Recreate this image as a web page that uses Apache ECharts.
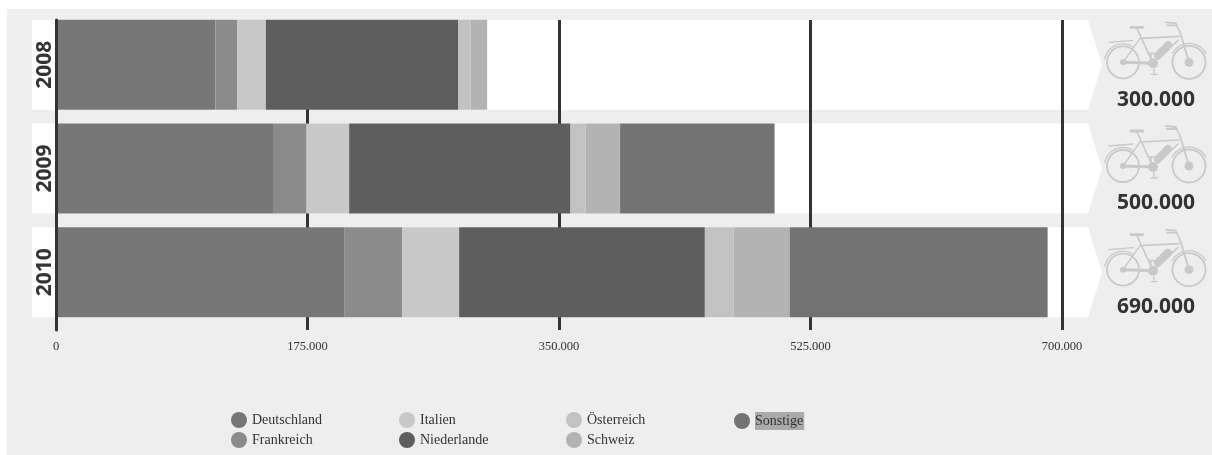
<!DOCTYPE html>
<html>
<head>
<meta charset="utf-8">
<title>E-Bike-Absatz in Europa</title>
<script src="https://cdn.jsdelivr.net/npm/echarts@6/dist/echarts.min.js"></script>
<style>
  html, body { margin: 0; padding: 0; background: #fff; }
  #chart { width: 1212px; height: 455px; }
</style>
</head>
<body>
<div id="chart"></div>
<script>
// Units sold per year, split by market
const years = ['2008', '2009', '2010'];
const totals = [300000, 500000, 690000];
const deutschland = [111000, 151000, 200500];
const frankreich = [15000, 23000, 40500];
const italien = [20000, 30000, 39500];
const niederlande = [134000, 154000, 171000];
const oesterreich = [8500, 10500, 20000];
const schweiz = [11500, 24000, 39000];
const sonstige = [0, 107500, 179500];
const axisTicks = [0, 175000, 350000, 525000, 700000];

const fmt = v => String(v).replace(/\B(?=(\d{3})+$)/g, '.');

const markets = [
  { name: 'Deutschland', values: deutschland, color: '#777777' },
  { name: 'Frankreich', values: frankreich, color: '#8b8b8b' },
  { name: 'Italien', values: italien, color: '#c8c8c8' },
  { name: 'Niederlande', values: niederlande, color: '#5e5e5e' },
  { name: 'Österreich', values: oesterreich, color: '#c2c2c2' },
  { name: 'Schweiz', values: schweiz, color: '#b3b3b3' },
  { name: 'Sonstige', values: sonstige, color: '#737373' }
];

const SERIF = '"Liberation Serif", serif';
const SANS = '"Open Sans", sans-serif';
const BIKE = '#c9c9c9';

// White arrow-shaped band behind each year's bar
function renderBand(params, api) {
  const cy = api.coord([0, api.value(0)])[1];
  const h = 45;
  const l = params.coordSys.x - 24;
  const r = params.coordSys.x + params.coordSys.width + 26;
  return {
    type: 'polygon',
    shape: { points: [[l, cy - h], [r, cy - h], [r + 14, cy], [r, cy + h], [l, cy + h]] },
    style: { fill: '#ffffff' }
  };
}

function bikeLine(x1, y1, x2, y2, w) {
  return {
    type: 'line',
    shape: { x1, y1, x2, y2 },
    style: { stroke: BIKE, lineWidth: w || 1.2, fill: null, lineCap: 'round' }
  };
}
function bikeRing(cx, cy, r, w) {
  return { type: 'circle', shape: { cx, cy, r }, style: { stroke: BIKE, lineWidth: w, fill: 'none' } };
}
function bikeDot(cx, cy, r) {
  return { type: 'circle', shape: { cx, cy, r }, style: { fill: BIKE } };
}
function bikeArc(cx, cy, r, from, to, w) {
  return {
    type: 'arc',
    shape: { cx, cy, r, startAngle: from * Math.PI, endAngle: to * Math.PI },
    style: { stroke: BIKE, lineWidth: w, fill: 'none' }
  };
}

// Bicycle pictogram and the yearly total, to the right of the band
function renderBike(params, api) {
  const idx = api.value(0);
  const cy = api.coord([0, idx])[1];
  const bikeParts = [
    bikeRing(23, 47, 16, 1.8), bikeRing(89, 47, 16.5, 1.8),
    bikeArc(23, 47, 18.5, 1.05, 1.7, 1.3), bikeArc(89, 47, 19, 1.15, 1.85, 1.3),
    bikeDot(89, 47, 4.5), bikeDot(53, 48, 5), bikeDot(23, 47, 3),
    bikeLine(23, 47, 53, 48, 3),
    bikeLine(23, 47, 40, 23, 1.4),
    bikeLine(37, 13, 53, 48, 1.6),
    bikeLine(40, 23, 79, 21, 1.6),
    bikeLine(78, 25, 53, 48, 1.6),
    bikeLine(80, 17, 89, 47, 1.8),
    bikeLine(31, 12, 43, 12, 2.8),
    bikeLine(80, 17, 76, 9, 1.4),
    bikeLine(66, 7, 76, 8, 1.8),
    bikeLine(67, 10, 77, 10, 1.8),
    bikeLine(9, 27, 33, 25, 1.4),
    bikeLine(51, 38, 51, 43, 1.4),
    bikeLine(49, 38, 54, 38, 1.6),
    bikeLine(54, 54, 54, 58, 1.4),
    bikeLine(51, 59, 57, 59, 1.4),
    bikeLine(58, 40, 68, 30, 8)
  ];
  return {
    type: 'group',
    children: [
      { type: 'group', x: 1100, y: cy - 49.5, children: bikeParts },
      {
        type: 'text',
        x: 1156, y: cy + 35,
        style: {
          text: fmt(totals[idx]),
          font: '700 21px ' + SANS,
          fill: '#333333',
          textAlign: 'center',
          textVerticalAlign: 'middle'
        }
      }
    ]
  };
}

const chart = echarts.init(document.getElementById('chart'), null, { renderer: 'canvas' });

const left = 56, width = 1006;
const legendColumns = [
  { x: 231, names: ['Deutschland', 'Frankreich'] },
  { x: 399, names: ['Italien', 'Niederlande'] },
  { x: 566, names: ['Österreich', 'Schweiz'] },
  { x: 734, names: ['Sonstige'], highlight: true }
];

chart.setOption({
  animation: false,
  graphic: [{
    type: 'rect', z: -10, silent: true,
    shape: { x: 7, y: 9, width: 1205, height: 446 },
    style: { fill: '#eeeeee' }
  }],
  legend: legendColumns.map(col => ({
    orient: 'vertical',
    left: col.x,
    top: 412,
    padding: 0,
    itemWidth: 16,
    itemHeight: 16,
    itemGap: 4,
    icon: 'circle',
    selectedMode: false,
    data: col.names,
    textStyle: Object.assign(
      { fontFamily: SERIF, fontSize: 14, color: '#333333' },
      col.highlight ? { backgroundColor: '#aaaaaa', padding: [2, 1, 2, 0] } : {}
    )
  })),
  grid: [
    // Tick lines and numbers
    { left, width, top: 20, height: 310, containLabel: false },
    // Bars and year labels
    { left, width, top: 13, height: 311, containLabel: false }
  ],
  xAxis: [
    {
      gridIndex: 0, type: 'value', min: 0, max: 700000, interval: 175000,
      axisLine: { show: false },
      axisTick: { show: false },
      splitLine: { show: true, lineStyle: { color: '#333333', width: 3 } },
      axisLabel: {
        margin: 10, fontFamily: SERIF, fontSize: 12.5, color: '#333333',
        customValues: axisTicks, formatter: v => fmt(v)
      }
    },
    {
      gridIndex: 1, type: 'value', min: 0, max: 700000, interval: 175000, show: false,
      splitLine: { show: false }
    }
  ],
  yAxis: [
    {
      // Zero line stays on top of the bars
      gridIndex: 0, type: 'category', data: years, z: 3,
      axisLine: { show: true, lineStyle: { color: '#333333', width: 3 } },
      axisTick: { show: false },
      axisLabel: { show: false },
      splitLine: { show: false }
    },
    {
      gridIndex: 1, type: 'category', data: years, inverse: true,
      axisLine: { show: false },
      axisTick: { show: false },
      splitLine: { show: false },
      axisLabel: {
        rotate: 90, margin: 0, fontFamily: SANS, fontWeight: 700, fontSize: 21, color: '#333333'
      }
    }
  ],
  series: [
    {
      type: 'custom', name: 'band', xAxisIndex: 1, yAxisIndex: 1, z: -1, silent: true,
      renderItem: renderBand, data: years.map((y, i) => [i]), encode: { y: 0 }
    },
    ...markets.map(m => ({
      type: 'bar', name: m.name, stack: 'absatz', xAxisIndex: 1, yAxisIndex: 1,
      barWidth: 90, z: 2, silent: true,
      itemStyle: { color: m.color },
      data: m.values
    })),
    {
      type: 'custom', name: 'bike', xAxisIndex: 1, yAxisIndex: 1, z: 3, silent: true,
      clip: false,
      renderItem: renderBike, data: years.map((y, i) => [i]), encode: { y: 0 }
    }
  ]
});
</script>
</body>
</html>
